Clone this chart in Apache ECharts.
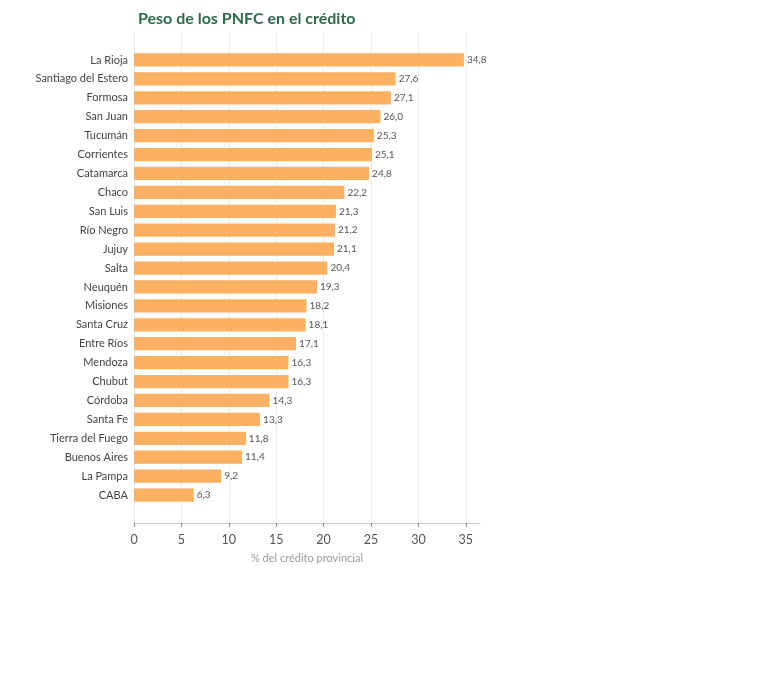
<!DOCTYPE html>
<html lang="es">
<head>
    <meta charset="UTF-8">
    <title>Peso de los PNFC en el crédito</title>
    <script type="text/javascript" src="https://cdn.jsdelivr.net/npm/echarts@6/dist/echarts.min.js"></script>
    <style>
        html, body {
            width: 100%;
            height: 100%;
            margin: 0;
            padding: 0;
            background: #fff;
        }
        #main {
            width: 780px;
            height: 680px;
        }
    </style>
</head>
<body>
    <div id="main"></div>
    <script>
        var provincias = ['La Rioja', 'Santiago del Estero', 'Formosa', 'San Juan', 'Tucumán', 'Corrientes',
            'Catamarca', 'Chaco', 'San Luis', 'Río Negro', 'Jujuy', 'Salta', 'Neuquén', 'Misiones',
            'Santa Cruz', 'Entre Ríos', 'Mendoza', 'Chubut', 'Córdoba', 'Santa Fe', 'Tierra del Fuego',
            'Buenos Aires', 'La Pampa', 'CABA'];
        var peso = [34.8, 27.6, 27.1, 26.0, 25.3, 25.1, 24.8, 22.2, 21.3, 21.2, 21.1, 20.4, 19.3, 18.2,
            18.1, 17.1, 16.3, 16.3, 14.3, 13.3, 11.8, 11.4, 9.2, 6.3];
        var ticksX = [0, 5, 10, 15, 20, 25, 30, 35];

        var myChart = echarts.init(document.getElementById('main'));
        var fuente = 'Lato, "Noto Sans", sans-serif';

        var option = {
            backgroundColor: '#fff',
            animation: false,
            title: {
                text: 'Peso de los PNFC en el crédito',
                left: 133,
                top: 6,
                textStyle: { color: '#2e6a4e', fontSize: 16, fontWeight: 'bold', fontFamily: fuente }
            },
            grid: [
                // rejilla y eje x
                { left: 134, right: 300, top: 32, bottom: 157 },
                // barras
                { left: 134, right: 300, top: 50.5, bottom: 175.5 }
            ],
            xAxis: [{
                gridIndex: 0,
                type: 'value',
                min: 0,
                max: 36.5,
                interval: 5,
                name: '% del crédito provincial',
                nameLocation: 'middle',
                nameGap: 30,
                nameTextStyle: { color: '#9a9a9a', fontSize: 11, fontFamily: fuente },
                axisLine: { show: true, lineStyle: { color: '#cfcfcf' } },
                axisTick: { show: true, customValues: ticksX, length: 4, lineStyle: { color: '#888' } },
                axisLabel: {
                    customValues: ticksX,
                    color: '#555', fontSize: 12.5, margin: 10, fontFamily: fuente
                },
                splitLine: { show: true, lineStyle: { color: '#ececec' } }
            }, {
                gridIndex: 1,
                type: 'value',
                min: 0,
                max: 36.5,
                show: false
            }],
            yAxis: [{
                gridIndex: 0,
                type: 'value',
                show: false
            }, {
                gridIndex: 1,
                type: 'category',
                inverse: true,
                data: provincias,
                axisLine: { show: false },
                axisTick: { show: false },
                axisLabel: { color: '#444', fontSize: 11, margin: 6, fontFamily: fuente }
            }],
            series: [{
                type: 'bar',
                xAxisIndex: 1,
                yAxisIndex: 1,
                data: peso,
                barWidth: '70%',
                itemStyle: { color: '#fbb062' },
                label: {
                    show: true,
                    position: 'right',
                    distance: 3,
                    color: '#555',
                    fontSize: 10,
                    fontFamily: fuente,
                    formatter: function (p) { return p.value.toFixed(1).replace('.', ','); }
                }
            }]
        };
        myChart.setOption(option);

        window.addEventListener('resize', function () {
            myChart.resize();
        });
    </script>
</body>
</html>
